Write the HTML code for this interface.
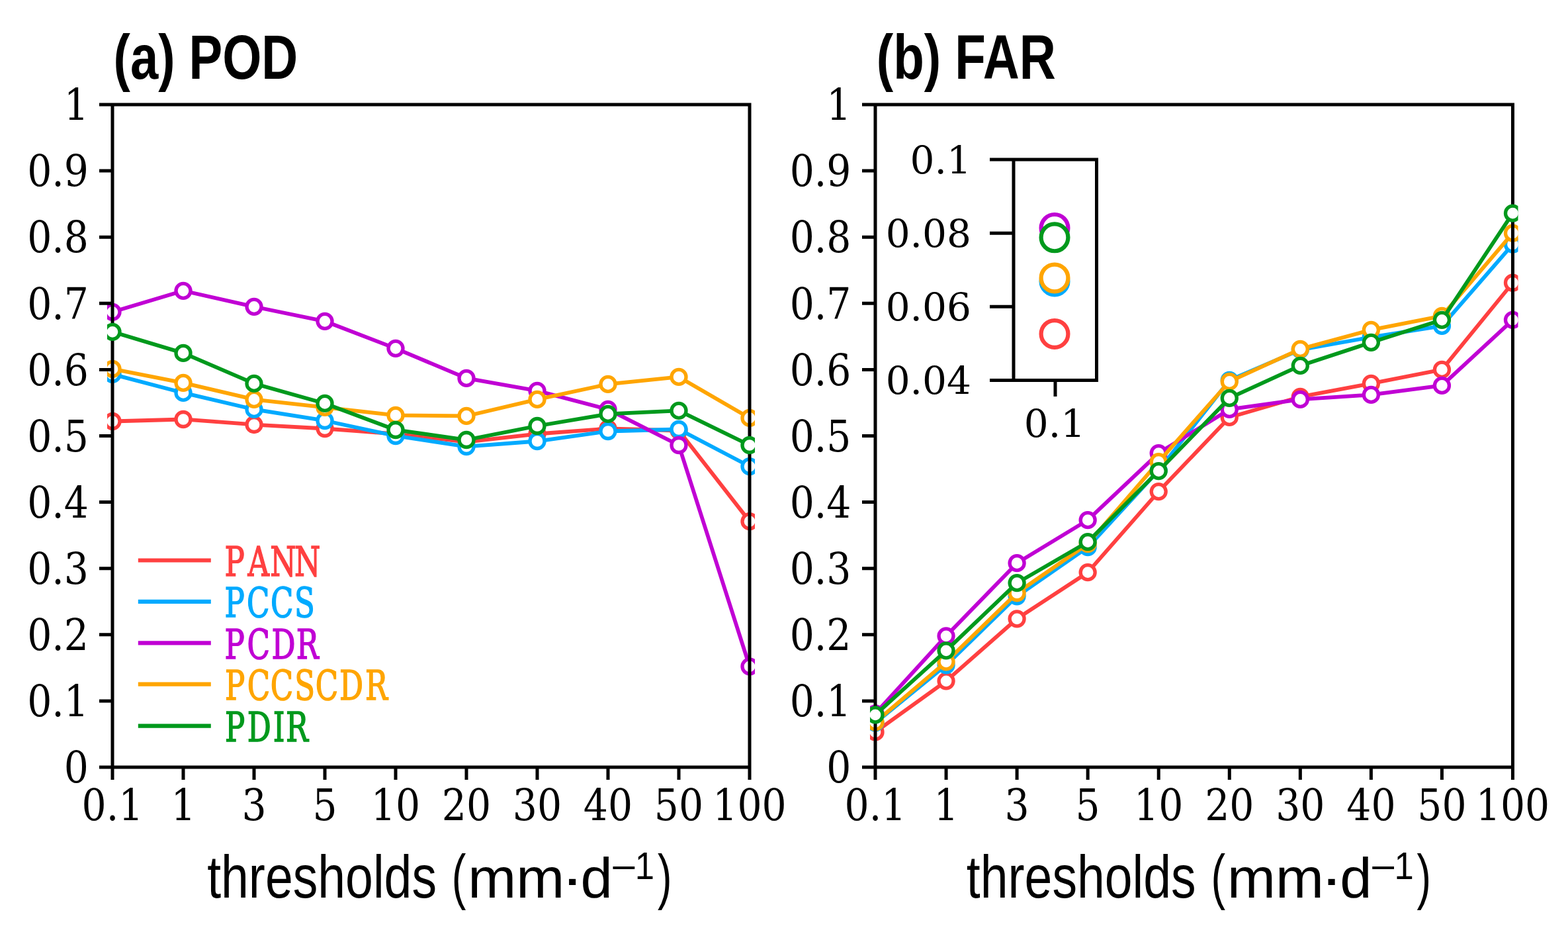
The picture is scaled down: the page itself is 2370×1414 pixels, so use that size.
<!DOCTYPE html><html><head><meta charset="utf-8"><title>POD FAR</title><style>html,body{margin:0;padding:0;background:#fff;}svg{display:block;}</style></head><body><svg width="2370" height="1414" viewBox="0 0 2370 1414">
<defs><filter id="soft" x="0" y="0" width="100%" height="100%" filterUnits="userSpaceOnUse"><feGaussianBlur stdDeviation="0.7"/></filter></defs>
<rect width="2370" height="1414" fill="#fff"/>
<g filter="url(#soft)">
<clipPath id="clip0"><rect x="162" y="0" width="979" height="1414"/></clipPath>
<g clip-path="url(#clip0)"><polyline points="170,636.48 277,633.48 384,641.48 491,647.49 598,655.5 705,667.51 812,655.5 919,647.49 1026,650.49 1133,787.63" fill="none" stroke="#ff4040" stroke-width="5.8" stroke-linejoin="round"/><circle cx="170" cy="636.48" r="11.0" fill="#fff" stroke="#ff4040" stroke-width="5.3"/><circle cx="277" cy="633.48" r="11.0" fill="#fff" stroke="#ff4040" stroke-width="5.3"/><circle cx="384" cy="641.48" r="11.0" fill="#fff" stroke="#ff4040" stroke-width="5.3"/><circle cx="491" cy="647.49" r="11.0" fill="#fff" stroke="#ff4040" stroke-width="5.3"/><circle cx="598" cy="655.5" r="11.0" fill="#fff" stroke="#ff4040" stroke-width="5.3"/><circle cx="705" cy="667.51" r="11.0" fill="#fff" stroke="#ff4040" stroke-width="5.3"/><circle cx="812" cy="655.5" r="11.0" fill="#fff" stroke="#ff4040" stroke-width="5.3"/><circle cx="919" cy="647.49" r="11.0" fill="#fff" stroke="#ff4040" stroke-width="5.3"/><circle cx="1026" cy="650.49" r="11.0" fill="#fff" stroke="#ff4040" stroke-width="5.3"/><circle cx="1133" cy="787.63" r="11.0" fill="#fff" stroke="#ff4040" stroke-width="5.3"/></g>
<g clip-path="url(#clip0)"><polyline points="170,565.41 277,593.44 384,618.46 491,635.48 598,658.5 705,674.52 812,666.51 919,651.49 1026,648.49 1133,704.55" fill="none" stroke="#00aaff" stroke-width="5.8" stroke-linejoin="round"/><circle cx="170" cy="565.41" r="11.0" fill="#fff" stroke="#00aaff" stroke-width="5.3"/><circle cx="277" cy="593.44" r="11.0" fill="#fff" stroke="#00aaff" stroke-width="5.3"/><circle cx="384" cy="618.46" r="11.0" fill="#fff" stroke="#00aaff" stroke-width="5.3"/><circle cx="491" cy="635.48" r="11.0" fill="#fff" stroke="#00aaff" stroke-width="5.3"/><circle cx="598" cy="658.5" r="11.0" fill="#fff" stroke="#00aaff" stroke-width="5.3"/><circle cx="705" cy="674.52" r="11.0" fill="#fff" stroke="#00aaff" stroke-width="5.3"/><circle cx="812" cy="666.51" r="11.0" fill="#fff" stroke="#00aaff" stroke-width="5.3"/><circle cx="919" cy="651.49" r="11.0" fill="#fff" stroke="#00aaff" stroke-width="5.3"/><circle cx="1026" cy="648.49" r="11.0" fill="#fff" stroke="#00aaff" stroke-width="5.3"/><circle cx="1133" cy="704.55" r="11.0" fill="#fff" stroke="#00aaff" stroke-width="5.3"/></g>
<g clip-path="url(#clip0)"><polyline points="170,471.31 277,439.28 384,463.31 491,485.33 598,526.37 705,571.41 812,590.43 919,618.46 1026,672.51 1133,1006.85" fill="none" stroke="#c000d4" stroke-width="5.8" stroke-linejoin="round"/><circle cx="170" cy="471.31" r="11.0" fill="#fff" stroke="#c000d4" stroke-width="5.3"/><circle cx="277" cy="439.28" r="11.0" fill="#fff" stroke="#c000d4" stroke-width="5.3"/><circle cx="384" cy="463.31" r="11.0" fill="#fff" stroke="#c000d4" stroke-width="5.3"/><circle cx="491" cy="485.33" r="11.0" fill="#fff" stroke="#c000d4" stroke-width="5.3"/><circle cx="598" cy="526.37" r="11.0" fill="#fff" stroke="#c000d4" stroke-width="5.3"/><circle cx="705" cy="571.41" r="11.0" fill="#fff" stroke="#c000d4" stroke-width="5.3"/><circle cx="812" cy="590.43" r="11.0" fill="#fff" stroke="#c000d4" stroke-width="5.3"/><circle cx="919" cy="618.46" r="11.0" fill="#fff" stroke="#c000d4" stroke-width="5.3"/><circle cx="1026" cy="672.51" r="11.0" fill="#fff" stroke="#c000d4" stroke-width="5.3"/><circle cx="1133" cy="1006.85" r="11.0" fill="#fff" stroke="#c000d4" stroke-width="5.3"/></g>
<g clip-path="url(#clip0)"><polyline points="170,557.4 277,578.42 384,603.44 491,615.46 598,627.47 705,628.47 812,603.44 919,580.42 1026,569.41 1133,631.47" fill="none" stroke="#ffa500" stroke-width="5.8" stroke-linejoin="round"/><circle cx="170" cy="557.4" r="11.0" fill="#fff" stroke="#ffa500" stroke-width="5.3"/><circle cx="277" cy="578.42" r="11.0" fill="#fff" stroke="#ffa500" stroke-width="5.3"/><circle cx="384" cy="603.44" r="11.0" fill="#fff" stroke="#ffa500" stroke-width="5.3"/><circle cx="491" cy="615.46" r="11.0" fill="#fff" stroke="#ffa500" stroke-width="5.3"/><circle cx="598" cy="627.47" r="11.0" fill="#fff" stroke="#ffa500" stroke-width="5.3"/><circle cx="705" cy="628.47" r="11.0" fill="#fff" stroke="#ffa500" stroke-width="5.3"/><circle cx="812" cy="603.44" r="11.0" fill="#fff" stroke="#ffa500" stroke-width="5.3"/><circle cx="919" cy="580.42" r="11.0" fill="#fff" stroke="#ffa500" stroke-width="5.3"/><circle cx="1026" cy="569.41" r="11.0" fill="#fff" stroke="#ffa500" stroke-width="5.3"/><circle cx="1133" cy="631.47" r="11.0" fill="#fff" stroke="#ffa500" stroke-width="5.3"/></g>
<g stroke="#000" stroke-width="5.0" fill="none">
<path d="M150,158H1135.5M150,1159H1135.5M170,155.5V1178M1133,155.5V1178"/>
<path d="M150,1058.9H170M150,958.8H170M150,858.7H170M150,758.6H170M150,658.5H170M150,558.4H170M150,458.3H170M150,358.2H170M150,258.1H170M277,1159V1178M384,1159V1178M491,1159V1178M598,1159V1178M705,1159V1178M812,1159V1178M919,1159V1178M1026,1159V1178"/>
</g>
<g clip-path="url(#clip0)"><polyline points="170,501.34 277,533.38 384,579.42 491,609.45 598,649.49 705,664.51 812,643.49 919,625.47 1026,620.46 1133,672.51" fill="none" stroke="#00991e" stroke-width="5.8" stroke-linejoin="round"/><circle cx="170" cy="501.34" r="11.0" fill="#fff" stroke="#00991e" stroke-width="5.3"/><circle cx="277" cy="533.38" r="11.0" fill="#fff" stroke="#00991e" stroke-width="5.3"/><circle cx="384" cy="579.42" r="11.0" fill="#fff" stroke="#00991e" stroke-width="5.3"/><circle cx="491" cy="609.45" r="11.0" fill="#fff" stroke="#00991e" stroke-width="5.3"/><circle cx="598" cy="649.49" r="11.0" fill="#fff" stroke="#00991e" stroke-width="5.3"/><circle cx="705" cy="664.51" r="11.0" fill="#fff" stroke="#00991e" stroke-width="5.3"/><circle cx="812" cy="643.49" r="11.0" fill="#fff" stroke="#00991e" stroke-width="5.3"/><circle cx="919" cy="625.47" r="11.0" fill="#fff" stroke="#00991e" stroke-width="5.3"/><circle cx="1026" cy="620.46" r="11.0" fill="#fff" stroke="#00991e" stroke-width="5.3"/><circle cx="1133" cy="672.51" r="11.0" fill="#fff" stroke="#00991e" stroke-width="5.3"/></g>
<text transform="translate(134,1182.2) scale(0.89,1)" text-anchor="end" font-family='"DejaVu Serif","Liberation Serif",serif' font-size="65.6">0</text>
<text transform="translate(134,1082.1) scale(0.89,1)" text-anchor="end" font-family='"DejaVu Serif","Liberation Serif",serif' font-size="65.6">0.1</text>
<text transform="translate(134,982) scale(0.89,1)" text-anchor="end" font-family='"DejaVu Serif","Liberation Serif",serif' font-size="65.6">0.2</text>
<text transform="translate(134,881.9) scale(0.89,1)" text-anchor="end" font-family='"DejaVu Serif","Liberation Serif",serif' font-size="65.6">0.3</text>
<text transform="translate(134,781.8) scale(0.89,1)" text-anchor="end" font-family='"DejaVu Serif","Liberation Serif",serif' font-size="65.6">0.4</text>
<text transform="translate(134,681.7) scale(0.89,1)" text-anchor="end" font-family='"DejaVu Serif","Liberation Serif",serif' font-size="65.6">0.5</text>
<text transform="translate(134,581.6) scale(0.89,1)" text-anchor="end" font-family='"DejaVu Serif","Liberation Serif",serif' font-size="65.6">0.6</text>
<text transform="translate(134,481.5) scale(0.89,1)" text-anchor="end" font-family='"DejaVu Serif","Liberation Serif",serif' font-size="65.6">0.7</text>
<text transform="translate(134,381.4) scale(0.89,1)" text-anchor="end" font-family='"DejaVu Serif","Liberation Serif",serif' font-size="65.6">0.8</text>
<text transform="translate(134,281.3) scale(0.89,1)" text-anchor="end" font-family='"DejaVu Serif","Liberation Serif",serif' font-size="65.6">0.9</text>
<text transform="translate(134,181.2) scale(0.89,1)" text-anchor="end" font-family='"DejaVu Serif","Liberation Serif",serif' font-size="65.6">1</text>
<text transform="translate(170,1239.1) scale(0.89,1)" text-anchor="middle" font-family='"DejaVu Serif","Liberation Serif",serif' font-size="65.6">0.1</text>
<text transform="translate(277,1239.1) scale(0.89,1)" text-anchor="middle" font-family='"DejaVu Serif","Liberation Serif",serif' font-size="65.6">1</text>
<text transform="translate(384,1239.1) scale(0.89,1)" text-anchor="middle" font-family='"DejaVu Serif","Liberation Serif",serif' font-size="65.6">3</text>
<text transform="translate(491,1239.1) scale(0.89,1)" text-anchor="middle" font-family='"DejaVu Serif","Liberation Serif",serif' font-size="65.6">5</text>
<text transform="translate(598,1239.1) scale(0.89,1)" text-anchor="middle" font-family='"DejaVu Serif","Liberation Serif",serif' font-size="65.6">10</text>
<text transform="translate(705,1239.1) scale(0.89,1)" text-anchor="middle" font-family='"DejaVu Serif","Liberation Serif",serif' font-size="65.6">20</text>
<text transform="translate(812,1239.1) scale(0.89,1)" text-anchor="middle" font-family='"DejaVu Serif","Liberation Serif",serif' font-size="65.6">30</text>
<text transform="translate(919,1239.1) scale(0.89,1)" text-anchor="middle" font-family='"DejaVu Serif","Liberation Serif",serif' font-size="65.6">40</text>
<text transform="translate(1026,1239.1) scale(0.89,1)" text-anchor="middle" font-family='"DejaVu Serif","Liberation Serif",serif' font-size="65.6">50</text>
<text transform="translate(1133,1239.1) scale(0.89,1)" text-anchor="middle" font-family='"DejaVu Serif","Liberation Serif",serif' font-size="65.6">100</text>
<text x="171.62" y="118.50" font-family='"Liberation Sans",sans-serif' font-weight="bold" font-size="94" fill="#000" textLength="278.57" lengthAdjust="spacingAndGlyphs" >(a) POD</text>
<text x="313.16" y="1355.70" font-family='"Liberation Sans",sans-serif'  font-size="91" fill="#000" textLength="346.85" lengthAdjust="spacingAndGlyphs" >thresholds</text>
<text x="682.68" y="1356.20" font-family='"Liberation Sans",sans-serif'  font-size="93" fill="#000" textLength="21.60" lengthAdjust="spacingAndGlyphs" >(</text>
<text x="707.39" y="1355.70" font-family='"Liberation Sans",sans-serif'  font-size="85" fill="#000" textLength="145.89" lengthAdjust="spacingAndGlyphs" >mm</text>
<text x="847.41" y="1355.70" font-family='"Liberation Sans",sans-serif'  font-size="85" fill="#000" textLength="35.32" lengthAdjust="spacingAndGlyphs" >·</text>
<text x="877.46" y="1355.70" font-family='"Liberation Sans",sans-serif'  font-size="85" fill="#000" textLength="48.23" lengthAdjust="spacingAndGlyphs" >d</text>
<text x="922.97" y="1330.40" font-family='"Liberation Sans",sans-serif'  font-size="56.7" fill="#000" textLength="39.43" lengthAdjust="spacingAndGlyphs" >−</text>
<text x="959.79" y="1328.40" font-family='"Liberation Sans",sans-serif'  font-size="56.7" fill="#000" textLength="29.28" lengthAdjust="spacingAndGlyphs" >1</text>
<text x="993.92" y="1356.20" font-family='"Liberation Sans",sans-serif'  font-size="93" fill="#000" textLength="21.48" lengthAdjust="spacingAndGlyphs" >)</text>
<clipPath id="clip1"><rect x="1315" y="0" width="979.5" height="1414"/></clipPath>
<g clip-path="url(#clip1)"><polyline points="1323,1105.95 1430.06,1028.87 1537.11,934.78 1644.17,864.71 1751.22,742.58 1858.28,630.47 1965.33,599.44 2072.39,579.42 2179.44,558.4 2286.5,427.27" fill="none" stroke="#ff4040" stroke-width="5.8" stroke-linejoin="round"/><circle cx="1323" cy="1105.95" r="11.0" fill="#fff" stroke="#ff4040" stroke-width="5.3"/><circle cx="1430.06" cy="1028.87" r="11.0" fill="#fff" stroke="#ff4040" stroke-width="5.3"/><circle cx="1537.11" cy="934.78" r="11.0" fill="#fff" stroke="#ff4040" stroke-width="5.3"/><circle cx="1644.17" cy="864.71" r="11.0" fill="#fff" stroke="#ff4040" stroke-width="5.3"/><circle cx="1751.22" cy="742.58" r="11.0" fill="#fff" stroke="#ff4040" stroke-width="5.3"/><circle cx="1858.28" cy="630.47" r="11.0" fill="#fff" stroke="#ff4040" stroke-width="5.3"/><circle cx="1965.33" cy="599.44" r="11.0" fill="#fff" stroke="#ff4040" stroke-width="5.3"/><circle cx="2072.39" cy="579.42" r="11.0" fill="#fff" stroke="#ff4040" stroke-width="5.3"/><circle cx="2179.44" cy="558.4" r="11.0" fill="#fff" stroke="#ff4040" stroke-width="5.3"/><circle cx="2286.5" cy="427.27" r="11.0" fill="#fff" stroke="#ff4040" stroke-width="5.3"/></g>
<g clip-path="url(#clip1)"><polyline points="1323,1091.93 1430.06,1004.85 1537.11,900.74 1644.17,826.67 1751.22,710.55 1858.28,574.42 1965.33,528.37 2072.39,509.35 2179.44,492.33 2286.5,369.21" fill="none" stroke="#00aaff" stroke-width="5.8" stroke-linejoin="round"/><circle cx="1323" cy="1091.93" r="11.0" fill="#fff" stroke="#00aaff" stroke-width="5.3"/><circle cx="1430.06" cy="1004.85" r="11.0" fill="#fff" stroke="#00aaff" stroke-width="5.3"/><circle cx="1537.11" cy="900.74" r="11.0" fill="#fff" stroke="#00aaff" stroke-width="5.3"/><circle cx="1644.17" cy="826.67" r="11.0" fill="#fff" stroke="#00aaff" stroke-width="5.3"/><circle cx="1751.22" cy="710.55" r="11.0" fill="#fff" stroke="#00aaff" stroke-width="5.3"/><circle cx="1858.28" cy="574.42" r="11.0" fill="#fff" stroke="#00aaff" stroke-width="5.3"/><circle cx="1965.33" cy="528.37" r="11.0" fill="#fff" stroke="#00aaff" stroke-width="5.3"/><circle cx="2072.39" cy="509.35" r="11.0" fill="#fff" stroke="#00aaff" stroke-width="5.3"/><circle cx="2179.44" cy="492.33" r="11.0" fill="#fff" stroke="#00aaff" stroke-width="5.3"/><circle cx="2286.5" cy="369.21" r="11.0" fill="#fff" stroke="#00aaff" stroke-width="5.3"/></g>
<g clip-path="url(#clip1)"><polyline points="1323,1077.92 1430.06,960.8 1537.11,850.69 1644.17,785.63 1751.22,684.53 1858.28,618.46 1965.33,603.44 2072.39,596.44 2179.44,582.42 2286.5,483.32" fill="none" stroke="#c000d4" stroke-width="5.8" stroke-linejoin="round"/><circle cx="1323" cy="1077.92" r="11.0" fill="#fff" stroke="#c000d4" stroke-width="5.3"/><circle cx="1430.06" cy="960.8" r="11.0" fill="#fff" stroke="#c000d4" stroke-width="5.3"/><circle cx="1537.11" cy="850.69" r="11.0" fill="#fff" stroke="#c000d4" stroke-width="5.3"/><circle cx="1644.17" cy="785.63" r="11.0" fill="#fff" stroke="#c000d4" stroke-width="5.3"/><circle cx="1751.22" cy="684.53" r="11.0" fill="#fff" stroke="#c000d4" stroke-width="5.3"/><circle cx="1858.28" cy="618.46" r="11.0" fill="#fff" stroke="#c000d4" stroke-width="5.3"/><circle cx="1965.33" cy="603.44" r="11.0" fill="#fff" stroke="#c000d4" stroke-width="5.3"/><circle cx="2072.39" cy="596.44" r="11.0" fill="#fff" stroke="#c000d4" stroke-width="5.3"/><circle cx="2179.44" cy="582.42" r="11.0" fill="#fff" stroke="#c000d4" stroke-width="5.3"/><circle cx="2286.5" cy="483.32" r="11.0" fill="#fff" stroke="#c000d4" stroke-width="5.3"/></g>
<g clip-path="url(#clip1)"><polyline points="1323,1090.93 1430.06,999.84 1537.11,895.74 1644.17,821.66 1751.22,697.54 1858.28,576.42 1965.33,527.37 2072.39,498.34 2179.44,477.32 2286.5,352.19" fill="none" stroke="#ffa500" stroke-width="5.8" stroke-linejoin="round"/><circle cx="1323" cy="1090.93" r="11.0" fill="#fff" stroke="#ffa500" stroke-width="5.3"/><circle cx="1430.06" cy="999.84" r="11.0" fill="#fff" stroke="#ffa500" stroke-width="5.3"/><circle cx="1537.11" cy="895.74" r="11.0" fill="#fff" stroke="#ffa500" stroke-width="5.3"/><circle cx="1644.17" cy="821.66" r="11.0" fill="#fff" stroke="#ffa500" stroke-width="5.3"/><circle cx="1751.22" cy="697.54" r="11.0" fill="#fff" stroke="#ffa500" stroke-width="5.3"/><circle cx="1858.28" cy="576.42" r="11.0" fill="#fff" stroke="#ffa500" stroke-width="5.3"/><circle cx="1965.33" cy="527.37" r="11.0" fill="#fff" stroke="#ffa500" stroke-width="5.3"/><circle cx="2072.39" cy="498.34" r="11.0" fill="#fff" stroke="#ffa500" stroke-width="5.3"/><circle cx="2179.44" cy="477.32" r="11.0" fill="#fff" stroke="#ffa500" stroke-width="5.3"/><circle cx="2286.5" cy="352.19" r="11.0" fill="#fff" stroke="#ffa500" stroke-width="5.3"/></g>
<g stroke="#000" stroke-width="5.0" fill="none">
<path d="M1303,158H2289M1303,1159H2289M1323,155.5V1178M2286.5,155.5V1178"/>
<path d="M1303,1058.9H1323M1303,958.8H1323M1303,858.7H1323M1303,758.6H1323M1303,658.5H1323M1303,558.4H1323M1303,458.3H1323M1303,358.2H1323M1303,258.1H1323M1430.06,1159V1178M1537.11,1159V1178M1644.17,1159V1178M1751.22,1159V1178M1858.28,1159V1178M1965.33,1159V1178M2072.39,1159V1178M2179.44,1159V1178"/>
</g>
<g clip-path="url(#clip1)"><polyline points="1323,1079.92 1430.06,982.82 1537.11,880.72 1644.17,818.66 1751.22,711.55 1858.28,601.44 1965.33,552.39 2072.39,517.36 2179.44,483.32 2286.5,322.16" fill="none" stroke="#00991e" stroke-width="5.8" stroke-linejoin="round"/><circle cx="1323" cy="1079.92" r="11.0" fill="#fff" stroke="#00991e" stroke-width="5.3"/><circle cx="1430.06" cy="982.82" r="11.0" fill="#fff" stroke="#00991e" stroke-width="5.3"/><circle cx="1537.11" cy="880.72" r="11.0" fill="#fff" stroke="#00991e" stroke-width="5.3"/><circle cx="1644.17" cy="818.66" r="11.0" fill="#fff" stroke="#00991e" stroke-width="5.3"/><circle cx="1751.22" cy="711.55" r="11.0" fill="#fff" stroke="#00991e" stroke-width="5.3"/><circle cx="1858.28" cy="601.44" r="11.0" fill="#fff" stroke="#00991e" stroke-width="5.3"/><circle cx="1965.33" cy="552.39" r="11.0" fill="#fff" stroke="#00991e" stroke-width="5.3"/><circle cx="2072.39" cy="517.36" r="11.0" fill="#fff" stroke="#00991e" stroke-width="5.3"/><circle cx="2179.44" cy="483.32" r="11.0" fill="#fff" stroke="#00991e" stroke-width="5.3"/><circle cx="2286.5" cy="322.16" r="11.0" fill="#fff" stroke="#00991e" stroke-width="5.3"/></g>
<text transform="translate(1286.5,1182.2) scale(0.89,1)" text-anchor="end" font-family='"DejaVu Serif","Liberation Serif",serif' font-size="65.6">0</text>
<text transform="translate(1286.5,1082.1) scale(0.89,1)" text-anchor="end" font-family='"DejaVu Serif","Liberation Serif",serif' font-size="65.6">0.1</text>
<text transform="translate(1286.5,982) scale(0.89,1)" text-anchor="end" font-family='"DejaVu Serif","Liberation Serif",serif' font-size="65.6">0.2</text>
<text transform="translate(1286.5,881.9) scale(0.89,1)" text-anchor="end" font-family='"DejaVu Serif","Liberation Serif",serif' font-size="65.6">0.3</text>
<text transform="translate(1286.5,781.8) scale(0.89,1)" text-anchor="end" font-family='"DejaVu Serif","Liberation Serif",serif' font-size="65.6">0.4</text>
<text transform="translate(1286.5,681.7) scale(0.89,1)" text-anchor="end" font-family='"DejaVu Serif","Liberation Serif",serif' font-size="65.6">0.5</text>
<text transform="translate(1286.5,581.6) scale(0.89,1)" text-anchor="end" font-family='"DejaVu Serif","Liberation Serif",serif' font-size="65.6">0.6</text>
<text transform="translate(1286.5,481.5) scale(0.89,1)" text-anchor="end" font-family='"DejaVu Serif","Liberation Serif",serif' font-size="65.6">0.7</text>
<text transform="translate(1286.5,381.4) scale(0.89,1)" text-anchor="end" font-family='"DejaVu Serif","Liberation Serif",serif' font-size="65.6">0.8</text>
<text transform="translate(1286.5,281.3) scale(0.89,1)" text-anchor="end" font-family='"DejaVu Serif","Liberation Serif",serif' font-size="65.6">0.9</text>
<text transform="translate(1286.5,181.2) scale(0.89,1)" text-anchor="end" font-family='"DejaVu Serif","Liberation Serif",serif' font-size="65.6">1</text>
<text transform="translate(1323,1239.1) scale(0.89,1)" text-anchor="middle" font-family='"DejaVu Serif","Liberation Serif",serif' font-size="65.6">0.1</text>
<text transform="translate(1430.06,1239.1) scale(0.89,1)" text-anchor="middle" font-family='"DejaVu Serif","Liberation Serif",serif' font-size="65.6">1</text>
<text transform="translate(1537.11,1239.1) scale(0.89,1)" text-anchor="middle" font-family='"DejaVu Serif","Liberation Serif",serif' font-size="65.6">3</text>
<text transform="translate(1644.17,1239.1) scale(0.89,1)" text-anchor="middle" font-family='"DejaVu Serif","Liberation Serif",serif' font-size="65.6">5</text>
<text transform="translate(1751.22,1239.1) scale(0.89,1)" text-anchor="middle" font-family='"DejaVu Serif","Liberation Serif",serif' font-size="65.6">10</text>
<text transform="translate(1858.28,1239.1) scale(0.89,1)" text-anchor="middle" font-family='"DejaVu Serif","Liberation Serif",serif' font-size="65.6">20</text>
<text transform="translate(1965.33,1239.1) scale(0.89,1)" text-anchor="middle" font-family='"DejaVu Serif","Liberation Serif",serif' font-size="65.6">30</text>
<text transform="translate(2072.39,1239.1) scale(0.89,1)" text-anchor="middle" font-family='"DejaVu Serif","Liberation Serif",serif' font-size="65.6">40</text>
<text transform="translate(2179.44,1239.1) scale(0.89,1)" text-anchor="middle" font-family='"DejaVu Serif","Liberation Serif",serif' font-size="65.6">50</text>
<text transform="translate(2286.5,1239.1) scale(0.89,1)" text-anchor="middle" font-family='"DejaVu Serif","Liberation Serif",serif' font-size="65.6">100</text>
<text x="1324.76" y="118.50" font-family='"Liberation Sans",sans-serif' font-weight="bold" font-size="94" fill="#000" textLength="271.18" lengthAdjust="spacingAndGlyphs" >(b) FAR</text>
<text x="1460.86" y="1355.70" font-family='"Liberation Sans",sans-serif'  font-size="91" fill="#000" textLength="346.85" lengthAdjust="spacingAndGlyphs" >thresholds</text>
<text x="1830.38" y="1356.20" font-family='"Liberation Sans",sans-serif'  font-size="93" fill="#000" textLength="21.60" lengthAdjust="spacingAndGlyphs" >(</text>
<text x="1855.09" y="1355.70" font-family='"Liberation Sans",sans-serif'  font-size="85" fill="#000" textLength="145.89" lengthAdjust="spacingAndGlyphs" >mm</text>
<text x="1995.11" y="1355.70" font-family='"Liberation Sans",sans-serif'  font-size="85" fill="#000" textLength="35.32" lengthAdjust="spacingAndGlyphs" >·</text>
<text x="2025.16" y="1355.70" font-family='"Liberation Sans",sans-serif'  font-size="85" fill="#000" textLength="48.23" lengthAdjust="spacingAndGlyphs" >d</text>
<text x="2070.67" y="1330.40" font-family='"Liberation Sans",sans-serif'  font-size="56.7" fill="#000" textLength="39.43" lengthAdjust="spacingAndGlyphs" >−</text>
<text x="2107.49" y="1328.40" font-family='"Liberation Sans",sans-serif'  font-size="56.7" fill="#000" textLength="29.28" lengthAdjust="spacingAndGlyphs" >1</text>
<text x="2141.62" y="1356.20" font-family='"Liberation Sans",sans-serif'  font-size="93" fill="#000" textLength="21.48" lengthAdjust="spacingAndGlyphs" >)</text>
<line x1="208.8" y1="846.5" x2="318.8" y2="846.5" stroke="#ff4040" stroke-width="6.2"/>
<text transform="scale(0.72,1)" x="492.64 542.71 594.51 645.42" y="870" text-anchor="middle" font-family='"DejaVu Serif","Liberation Serif",serif' font-size="62.5" fill="#ff4040" stroke="#ff4040" stroke-width="1.6">PANN</text>
<line x1="208.8" y1="908.9" x2="318.8" y2="908.9" stroke="#00aaff" stroke-width="6.2"/>
<text transform="scale(0.72,1)" x="492.64 541.88 591.94 639.58" y="932.4" text-anchor="middle" font-family='"DejaVu Serif","Liberation Serif",serif' font-size="62.5" fill="#00aaff" stroke="#00aaff" stroke-width="1.6">PCCS</text>
<line x1="208.8" y1="971.3" x2="318.8" y2="971.3" stroke="#c000d4" stroke-width="6.2"/>
<text transform="scale(0.72,1)" x="492.64 542.71 595.35 645.49" y="994.8" text-anchor="middle" font-family='"DejaVu Serif","Liberation Serif",serif' font-size="62.5" fill="#c000d4" stroke="#c000d4" stroke-width="1.6">PCDR</text>
<line x1="208.8" y1="1033.7" x2="318.8" y2="1033.7" stroke="#ffa500" stroke-width="6.2"/>
<text transform="scale(0.72,1)" x="493.13 542.99 591.67 639.86 686.18 737.64 790.21" y="1057.2" text-anchor="middle" font-family='"DejaVu Serif","Liberation Serif",serif' font-size="62.5" fill="#ffa500" stroke="#ffa500" stroke-width="1.6">PCCSCDR</text>
<line x1="208.8" y1="1096.6" x2="318.8" y2="1096.6" stroke="#00991e" stroke-width="6.2"/>
<text transform="scale(0.72,1)" x="493.13 544.17 585.76 623.68" y="1120.1" text-anchor="middle" font-family='"DejaVu Serif","Liberation Serif",serif' font-size="62.5" fill="#00991e" stroke="#00991e" stroke-width="1.6">PDIR</text>
<g stroke="#000" stroke-width="5.0" fill="none">
<path d="M1496,241H1660M1496,574.5H1660M1532,241V574.5M1657.5,241V574.5M1496,352.17H1532M1496,463.33H1532M1595,574.5V599"/>
</g>
<circle cx="1594" cy="504.47" r="20.4" fill="#fff" stroke="#ff4040" stroke-width="6.2"/>
<circle cx="1594" cy="424.98" r="20.4" fill="#fff" stroke="#00aaff" stroke-width="6.2"/>
<circle cx="1594" cy="344.38" r="20.4" fill="#fff" stroke="#c000d4" stroke-width="6.2"/>
<circle cx="1594" cy="419.98" r="20.4" fill="#fff" stroke="#ffa500" stroke-width="6.2"/>
<circle cx="1594" cy="358.84" r="20.4" fill="#fff" stroke="#00991e" stroke-width="6.2"/>
<text transform="translate(1468,261.5) scale(1.0,1)" text-anchor="end" font-family='"DejaVu Serif","Liberation Serif",serif' font-size="58.1">0.1</text>
<text transform="translate(1468,372.67) scale(1.0,1)" text-anchor="end" font-family='"DejaVu Serif","Liberation Serif",serif' font-size="58.1">0.08</text>
<text transform="translate(1468,483.83) scale(1.0,1)" text-anchor="end" font-family='"DejaVu Serif","Liberation Serif",serif' font-size="58.1">0.06</text>
<text transform="translate(1468,595) scale(1.0,1)" text-anchor="end" font-family='"DejaVu Serif","Liberation Serif",serif' font-size="58.1">0.04</text>
<text transform="translate(1594,660.3) scale(1.0,1)" text-anchor="middle" font-family='"DejaVu Serif","Liberation Serif",serif' font-size="58.1">0.1</text>
</g>
</svg></body></html>
